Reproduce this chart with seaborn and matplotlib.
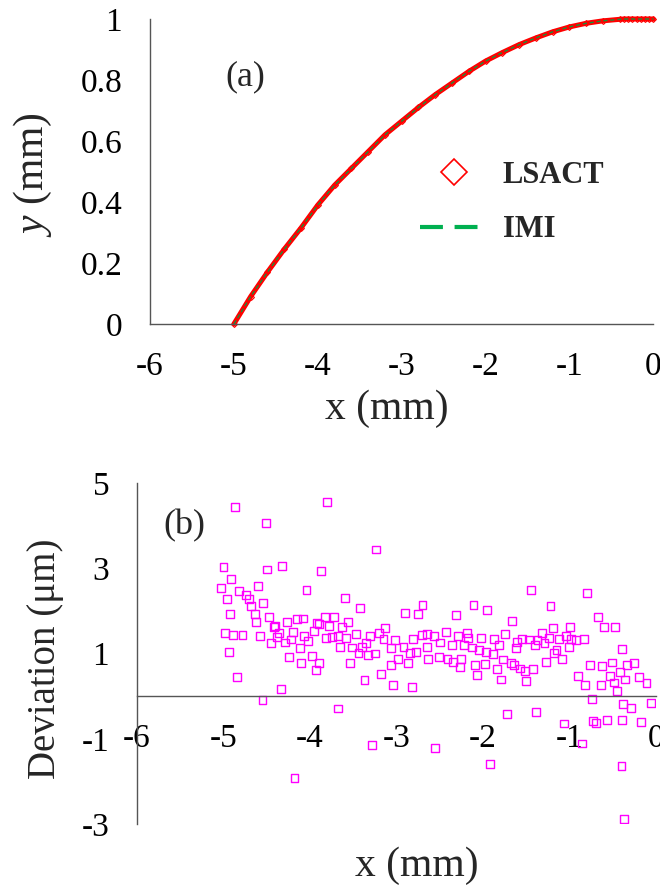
import matplotlib
matplotlib.use("Agg")
import matplotlib.pyplot as plt
import seaborn as sns

# (a) profile
prof_x = [-5.0, -4.8, -4.6, -4.4, -4.2, -4.0, -3.8, -3.6, -3.4, -3.2, -3.0,
          -2.8, -2.6, -2.4, -2.2, -2.0, -1.8, -1.6, -1.4, -1.2, -1.0, -0.8,
          -0.6, -0.4, -0.35, -0.3, -0.25, -0.2, -0.15, -0.1, -0.05, 0.0]
prof_y = [0.0, 0.09, 0.17, 0.245, 0.315, 0.39, 0.455, 0.51, 0.565, 0.62, 0.665,
          0.71, 0.752, 0.79, 0.828, 0.862, 0.89, 0.916, 0.938, 0.958, 0.974, 0.986,
          0.994, 0.999, 1.0, 1.0, 1.0, 1.0, 1.0, 1.0, 1.0, 1.0]

# (b) deviation between LSACT and IMI, um
dev_x = [-4.87, -4.51, -5.00, -4.50, -4.32, -4.91, -5.03, -4.60, -4.04, -4.82,
         -4.96, -4.74, -4.71, -4.54, -4.68, -4.93, -4.64, -4.47, -4.62, -4.27,
         -4.15, -4.08, -4.42, -4.40, -4.20, -4.98, -4.89, -4.78, -4.58, -4.36,
         -4.38, -4.29, -4.45, -4.22, -4.07, -4.02, -3.95, -3.92, -4.94, -4.24,
         -4.12, -4.10, -3.98, -3.93, -4.84, -4.34, -4.55, -4.18,
         -3.80, -3.24, -3.87, -3.60, -3.42, -2.70, -2.90, -2.75, -3.83, -3.72,
         -3.90, -3.78, -3.63, -3.56, -3.82, -3.75, -3.68, -3.58, -3.47, -3.31,
         -3.20, -3.13, -3.15, -3.02, -2.81, -2.71, -2.65, -3.65, -3.51, -3.40,
         -3.35, -3.44, -3.33, -3.25, -3.06, -2.92, -2.84, -2.77, -2.65, -2.64,
         -2.98, -2.87, -3.06, -3.54, -3.90, -3.18, -3.37, -3.04, -2.82, -3.68,
         -3.28,
         -1.45, -2.11, -1.95, -2.31, -1.67, -2.43, -2.57, -2.29, -2.19, -2.17,
         -2.02, -1.87, -1.75, -1.55, -1.47, -1.37, -2.50, -2.36, -2.22, -2.13,
         -2.05, -1.97, -1.88, -1.82, -1.61, -1.62, -1.40, -2.51, -2.41, -2.35,
         -2.25, -2.27, -2.09, -1.98, -2.07, -1.84, -1.77, -1.68, -1.64, -1.57,
         -1.51, -1.42, -1.79, -1.50, -1.72, -1.39, -2.56, -1.92,
         -0.80, -1.22, -0.67, -0.60, -0.47, -1.19, -0.99, -1.32, -1.24, -1.12,
         -1.04, -0.98, -0.93, -0.83, -1.29, -1.01, -1.15, -1.18, -1.09, -1.27,
         -0.39, -0.76, -0.62, -0.51, -0.34, -0.25, -0.90, -0.82, -0.64, -0.53,
         -0.49, -0.42, -0.36, -0.20, -0.11, -0.45, -0.74, -0.38, -0.29, -0.06,
         -1.06, -0.73, -0.69, -0.57, -0.39, -0.17, -0.86, -0.40, -0.37]
dev_y = [4.44, 4.07, 3.02, 2.97, 3.05, 2.74, 2.53, 2.58, 2.49, 2.47,
         2.27, 2.37, 2.27, 2.18, 2.11, 1.92, 1.92, 1.86, 1.73, 1.73,
         1.81, 1.82, 1.63, 1.65, 1.51, 1.49, 1.43, 1.43, 1.42, 1.49,
         1.39, 1.26, 1.24, 1.33, 1.41, 1.30, 1.53, 1.71, 1.03, 0.92,
         1.12, 0.78, 0.95, 0.61, 0.45, 0.17, -0.09, -1.92,
         4.56, 3.44, 2.94, 2.31, 2.07, 2.14, 1.96, 1.92, 1.86, 1.86,
         1.69, 1.64, 1.63, 1.73, 1.37, 1.39, 1.42, 1.37, 1.46, 1.42,
         1.49, 1.59, 1.34, 1.31, 1.35, 1.43, 1.46, 1.16, 1.14, 1.16,
         1.24, 1.02, 0.96, 1.00, 1.12, 1.16, 1.02, 1.04, 1.16, 0.88,
         0.88, 0.78, 0.73, 0.78, 0.77, 0.52, 0.38, 0.27, 0.22, -0.29,
         -1.15,
         2.50, 2.14, 2.02, 1.90, 1.77, 1.51, 1.42, 1.42, 1.49, 1.37,
         1.37, 1.35, 1.45, 1.35, 1.33, 1.31, 1.26, 1.21, 1.20, 1.14,
         1.08, 1.04, 0.98, 1.21, 1.27, 1.12, 1.20, 0.92, 0.88, 0.81,
         0.88, 0.69, 0.73, 0.75, 0.49, 0.63, 0.86, 0.78, 0.73, 0.65,
         0.59, 0.63, 0.39, 0.36, -0.41, -0.37, -1.21, -1.60,
         2.41, 2.12, 1.86, 1.63, 1.63, 1.59, 1.63, 1.49, 1.37, 1.34,
         1.42, 1.34, 1.31, 1.34, 1.25, 1.16, 1.08, 1.02, 0.88, 0.81,
         1.10, 0.74, 0.70, 0.79, 0.74, 0.77, 0.47, 0.27, 0.27, 0.48,
         0.32, 0.56, 0.39, 0.44, 0.30, 0.12, -0.07, -0.19, -0.27, -0.16,
         -0.64, -0.59, -0.62, -0.55, -0.56, -0.60, -1.11, -1.64, -2.89]

sns.set_style("white")
plt.rcParams["font.family"] = ["Liberation Serif", "DejaVu Serif"]
plt.rcParams["mathtext.fontset"] = "custom"
plt.rcParams["mathtext.it"] = "Liberation Serif:italic"
plt.rcParams["mathtext.rm"] = "Liberation Serif"

fig = plt.figure(figsize=(6.6, 8.92), dpi=100)
ax1 = fig.add_axes([0.2273, 0.6368, 0.7626, 0.3419])
ax2 = fig.add_axes([0.2076, 0.0762, 0.7864, 0.3823])

axis_col = "#555555"
for ax in (ax1, ax2):
    for s in ("top", "right"):
        ax.spines[s].set_visible(False)
    for s in ("left", "bottom"):
        ax.spines[s].set_color(axis_col)
        ax.spines[s].set_linewidth(1.0)
    ax.tick_params(direction="in", length=8, width=1, color=axis_col,
                   labelsize=24, pad=20, labelcolor="black")
    ax.set_xlim(-6, 0)
    ax.set_xticks([-6, -5, -4, -3, -2, -1, 0])
    ax.set_xticklabels(["-6", "-5", "-4", "-3", "-2", "-1", "0"])

# ---- panel (a)
sns.lineplot(x=prof_x, y=prof_y, ax=ax1, color="#FF0000", lw=3.6, marker="D",
             markersize=3, mfc="none", mec="#FF0000", mew=0.8, sort=False,
             estimator=None, label="LSACT")
sns.lineplot(x=prof_x, y=prof_y, ax=ax1, color="#1A8F3A", lw=1.0,
             dashes=(3, 2), sort=False, estimator=None, label="IMI")
ax1.set_ylim(0, 1)
ax1.set_yticks([0, 0.2, 0.4, 0.6, 0.8, 1])
ax1.set_yticklabels(["0", "0.2", "0.4", "0.6", "0.8", "1"])
ax1.set_xlabel("x (mm)", fontsize=30)
ax1.set_ylabel("$y$ (mm)", fontsize=30)
ax1.xaxis.set_label_coords(0.47, -0.215)
ax1.yaxis.set_label_coords(-0.19, 0.49)
ax1.text(-4.86, 0.81, "(a)", fontsize=26, ha="center", va="center")
leg = ax1.legend(loc="upper left", bbox_to_anchor=(0.537, 0.536), frameon=False,
                 borderpad=0, borderaxespad=0, handlelength=2.2,
                 handletextpad=0.5, labelspacing=0.85,
                 prop={"size": 22, "weight": "bold"})
h1, h2 = leg.legend_handles
h1.set_linestyle("none")
h1.set_markersize(13)
h1.set_markeredgewidth(1.2)
h2.set_color("#00B050")
h2.set_linewidth(3)
h2.set_dashes((5.5, 2.8))
for ln in ax1.get_lines():
    ln.set_clip_on(False)

# ---- panel (b)
sns.scatterplot(x=dev_x, y=dev_y, ax=ax2, marker="s", s=32,
                facecolor="none", edgecolor="#FF00FF", linewidth=1.0)
ax2.set_ylim(-3, 5)
ax2.set_yticks([-3, -1, 1, 3, 5])
ax2.set_yticklabels(["-3", "-1", "1", "3", "5"])
ax2.spines["bottom"].set_position(("data", 0))
ax2.set_xlabel("x (mm)", fontsize=30)
ax2.set_ylabel("Deviation (μm)", fontsize=28)
ax2.xaxis.set_label_coords(0.54, -0.065)
ax2.yaxis.set_label_coords(-0.14, 0.485)
ax2.text(-5.45, 4.0, "(b)", fontsize=26, ha="center", va="center")

fig.savefig("out.png", dpi=100)
